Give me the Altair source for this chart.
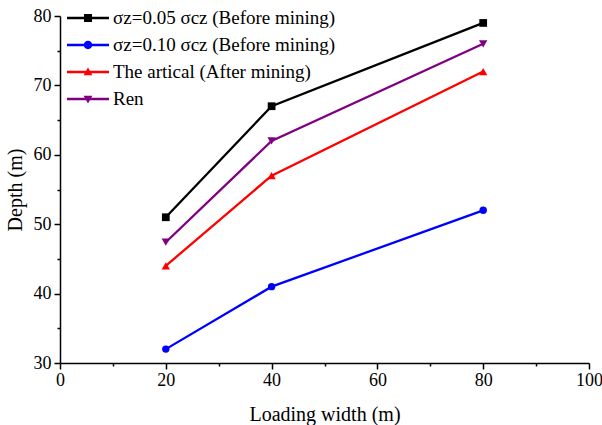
import altair as alt
import pandas as pd

# ---- data ----
loading_width = [20, 40, 80]
series_names = [
    "σz=0.05 σcz (Before mining)",
    "σz=0.10 σcz (Before mining)",
    "The artical (After mining)",
    "Ren",
]
depth_005 = [51, 67, 79]
depth_010 = [32, 41, 52]
depth_article = [44, 57, 72]
depth_ren = [47.4, 62, 76]
x_ticks = [0, 10, 20, 30, 40, 50, 60, 70, 80, 90, 100]
y_ticks = [30, 35, 40, 45, 50, 55, 60, 65, 70, 75, 80]

# ---- styles ----
colors = ["#000000", "#0000ff", "#ff0000", "#800080"]
shapes = ["square", "circle", "triangle-up", "triangle-down"]
sizes = [60, 55, 70, 70]
# legend symbols: a line segment with the marker in the middle (unit = 10 px)
legend_paths = [
    "M-2.1,-0.12L2.1,-0.12L2.1,0.12L-2.1,0.12Z M-0.4,-0.4L0.4,-0.4L0.4,0.4L-0.4,0.4Z",
    "M-2.1,-0.12L2.1,-0.12L2.1,0.12L-2.1,0.12Z M0.42,0A0.42,0.42 0 1,1 -0.42,0A0.42,0.42 0 1,1 0.42,0Z",
    "M-2.1,-0.12L2.1,-0.12L2.1,0.12L-2.1,0.12Z M0,-0.44L0.44,0.32L-0.44,0.32Z",
    "M-2.1,-0.12L2.1,-0.12L2.1,0.12L-2.1,0.12Z M0,0.44L-0.44,-0.32L0.44,-0.32Z",
]

values = [depth_005, depth_010, depth_article, depth_ren]
rows = []
for name, vals in zip(series_names, values):
    for xv, yv in zip(loading_width, vals):
        rows.append({"series": name, "width": xv, "depth": yv})
df = pd.DataFrame(rows)

FONT = "Liberation Serif"

x_enc = alt.X(
    "width:Q",
    scale=alt.Scale(domain=[0, 100], nice=False, zero=False),
    axis=alt.Axis(
        title="Loading width (m)",
        values=x_ticks,
        labelExpr="datum.value % 20 == 0 ? datum.label : ''",
        tickSize={"condition": {"test": "datum.value % 20 != 0", "value": 3}, "value": 6},
        grid=False,
        labelFlush=False,
        labelPadding=2,
        titlePadding=15,
    ),
)
y_enc = alt.Y(
    "depth:Q",
    scale=alt.Scale(domain=[30, 80], nice=False, zero=False),
    axis=alt.Axis(
        title="Depth (m)",
        values=y_ticks,
        labelExpr="datum.value % 10 == 0 ? datum.label : ''",
        tickSize={"condition": {"test": "datum.value % 10 != 0", "value": 3}, "value": 6},
        grid=False,
        labelFlush=False,
        labelPadding=3,
        titlePadding=8,
    ),
)

base = alt.Chart(df)
layers = []
for name, col, shp, sz in zip(series_names, colors, shapes, sizes):
    sub = base.transform_filter(alt.datum.series == name)
    layers.append(
        sub.mark_line(color=col, strokeWidth=2.3).encode(x=x_enc, y=y_enc)
    )
    layers.append(
        sub.mark_point(shape=shp, filled=True, color=col, size=sz, opacity=1).encode(
            x=x_enc, y=y_enc
        )
    )

legend_layer = (
    base.transform_filter("false")
    .mark_point(filled=True, opacity=1, size=400, strokeWidth=0)
    .encode(
        x=x_enc,
        y=y_enc,
        color=alt.Color(
            "series:N",
            scale=alt.Scale(domain=series_names, range=colors),
            legend=alt.Legend(
                title=None,
                orient="none",
                legendX=7,
                legendY=-8,
                symbolSize=400,
                symbolOffset=11,
                symbolStrokeWidth=0,
                symbolOpacity=1,
                labelFont=FONT,
                labelFontSize=19,
                labelColor="#000000",
                labelOffset=15,
                rowPadding=7,
                padding=0,
                labelLimit=400,
            ),
        ),
        shape=alt.Shape(
            "series:N",
            scale=alt.Scale(domain=series_names, range=legend_paths),
        ),
    )
)

chart = (
    alt.layer(*layers, legend_layer)
    .properties(
        width=529,
        height=347,
        autosize="none",
        padding={"left": 60, "top": 16, "right": 13, "bottom": 62},
    )
    .configure_view(stroke=None)
    .configure_axis(
        labelFont=FONT,
        labelFontSize=18,
        labelColor="#000000",
        titleFont=FONT,
        titleFontSize=20,
        titleFontWeight="normal",
        titleColor="#000000",
        domainColor="#000000",
        domainWidth=1.5,
        tickColor="#000000",
        tickWidth=1.5,
    )
)

chart.save("out.html", embed_options={"renderer": "svg", "actions": False})
